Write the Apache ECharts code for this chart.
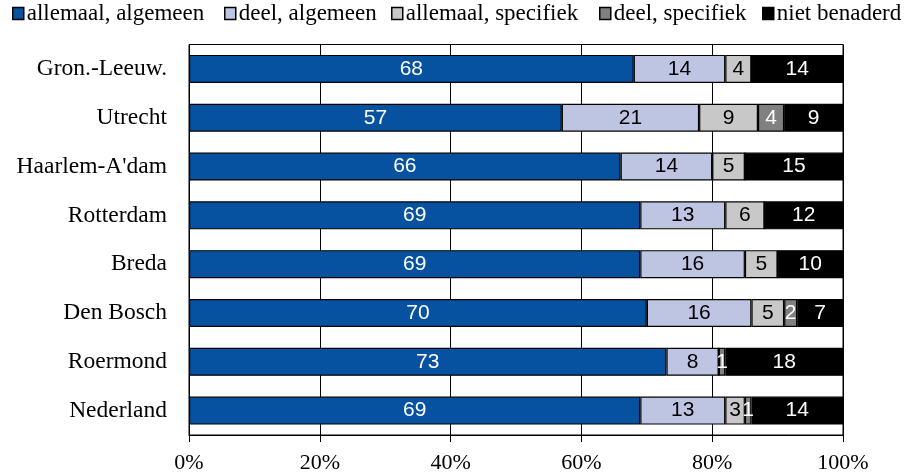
<!DOCTYPE html>
<html>
<head>
<meta charset="utf-8">
<script src="https://cdn.jsdelivr.net/npm/echarts@6/dist/echarts.min.js"></script>
<style>html,body{margin:0;padding:0;background:#fff}#c{width:906px;height:475px}</style>
</head>
<body>
<div id="c"></div>
<script>
const categories = ["Gron.-Leeuw.", "Utrecht", "Haarlem-A'dam", "Rotterdam", "Breda", "Den Bosch", "Roermond", "Nederland"];
const seriesNames = ["allemaal, algemeen", "deel, algemeen", "allemaal, specifiek", "deel, specifiek", "niet benaderd"];
const allemaalAlgemeen = [68, 57, 66, 69, 69, 70, 73, 69];
const deelAlgemeen = [14, 21, 14, 13, 16, 16, 8, 13];
const allemaalSpecifiek = [4, 9, 5, 6, 5, 5, 0, 3];
const deelSpecifiek = [0, 4, 0, 0, 0, 2, 1, 1];
const nietBenaderd = [14, 9, 15, 12, 10, 7, 18, 14];
const xTicks = [0, 20, 40, 60, 80, 100];

const values = [allemaalAlgemeen, deelAlgemeen, allemaalSpecifiek, deelSpecifiek, nietBenaderd];
const colors = ['#0652A0', '#BEC5E3', '#C8C8C8', '#808080', '#000000'];
const labelColors = ['#fff', '#000', '#000', '#fff', '#fff'];
const legendLeft = [7, 219, 386, 594, 757];

const chart = echarts.init(document.getElementById('c'));
chart.setOption({
  animation: false,
  legend: seriesNames.map((n, i) => ({
    top: -3, left: legendLeft[i], icon: 'rect',
    itemWidth: 11, itemHeight: 12, itemGap: 0,
    textStyle: { fontFamily: 'Liberation Serif', fontSize: 23, color: '#000', padding: [0, 0, 0, -2] },
    data: [{ name: n, itemStyle: { color: colors[i], borderColor: '#000', borderWidth: 1.5 } }]
  })),
  grid: { left: 189, right: 63, top: 44.5, bottom: 40, show: true, borderColor: '#000', borderWidth: 1 },
  xAxis: {
    type: 'value', min: 0, max: 100, interval: 20,
    axisLine: { show: true, lineStyle: { color: '#000', width: 1 } },
    axisTick: { show: true, length: 7, lineStyle: { color: '#000' } },
    splitLine: { show: true, lineStyle: { color: '#000', width: 1 } },
    axisLabel: { formatter: v => xTicks.includes(v) ? v + '%' : '', fontFamily: 'Liberation Serif', fontSize: 22, color: '#000', margin: 17 }
  },
  yAxis: {
    type: 'category', data: categories, inverse: true,
    axisLine: { show: true, lineStyle: { color: '#000' } },
    axisTick: { show: false },
    axisLabel: { fontFamily: 'Liberation Serif', fontSize: 23.5, color: '#000', margin: 22 }
  },
  series: seriesNames.map((n, i) => ({
    name: n, type: 'bar', stack: 'total', barWidth: 28,
    data: values[i],
    itemStyle: { color: colors[i], borderColor: '#000', borderWidth: 1.2 },
    label: {
      show: true, position: 'inside', color: labelColors[i],
      fontFamily: 'Liberation Sans', fontSize: 21,
      formatter: p => p.value > 0 ? String(p.value) : ''
    }
  }))
});
</script>
</body>
</html>
